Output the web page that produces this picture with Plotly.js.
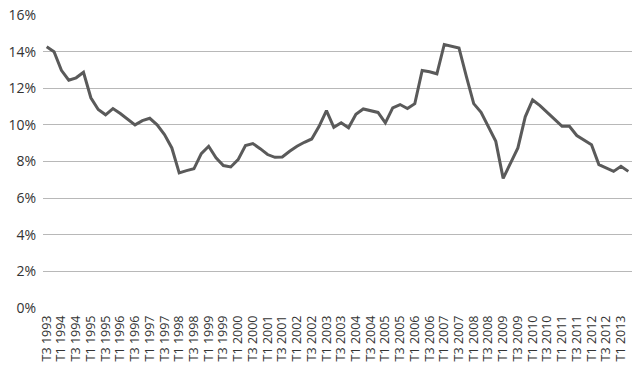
<!DOCTYPE html>
<html>
<head>
<meta charset="utf-8">
<script src="https://cdn.plot.ly/plotly-3.0.1.min.js"></script>
<style>html,body{margin:0;padding:0;background:#fff;}#chart{width:642px;height:371px;}</style>
</head>
<body>
<div id="chart"></div>
<script>
// Quarters from T3 1993 to T2 2013
const quarters = [];
(function(){
  const startYear = 1993, startQ = 3, n = 80;
  let y = startYear, q = startQ;
  for (let i = 0; i < n; i++) {
    quarters.push('T' + q + ' ' + y);
    q++; if (q > 4) { q = 1; y++; }
  }
})();

const rates = [
  14.26, 13.99, 12.98, 12.44, 12.57, 12.87, 11.48, 10.84, 10.55, 10.89,
  10.62, 10.29, 10.00, 10.23, 10.36, 10.00, 9.47, 8.74, 7.38, 7.50,
  7.60, 8.43, 8.83, 8.20, 7.78, 7.70, 8.10, 8.87, 8.98, 8.70,
  8.38, 8.23, 8.25, 8.56, 8.83, 9.05, 9.23, 9.92, 10.78, 9.87,
  10.12, 9.84, 10.58, 10.87, 10.78, 10.68, 10.11, 10.93, 11.11, 10.89,
  11.16, 12.97, 12.90, 12.79, 14.39, 14.30, 14.20, 12.65, 11.16, 10.69,
  9.92, 9.10, 7.08, 7.92, 8.74, 10.44, 11.36, 11.05, 10.70, 10.30,
  9.92, 9.92, 9.42, 9.17, 8.92, 7.83, 7.65, 7.46, 7.74, 7.46
];

const shownTicks = quarters.filter((q, i) => i % 2 === 0);
const yTicks = [0, 2, 4, 6, 8, 10, 12, 14, 16];
const yTickText = yTicks.map(v => v + '%');

Plotly.newPlot('chart', [{
  x: quarters,
  y: rates,
  type: 'scatter',
  mode: 'lines',
  line: {color: '#5a5a5a', width: 3},
  hoverinfo: 'skip'
}], {
  width: 642, height: 371,
  margin: {l: 43, r: 10, t: 15, b: 63},
  paper_bgcolor: '#fff', plot_bgcolor: '#fff',
  showlegend: false,
  font: {family: 'Open Sans, sans-serif', color: '#333', size: 12},
  xaxis: {
    type: 'category',
    range: [-0.5, 79.5],
    tickmode: 'array',
    tickvals: shownTicks,
    ticktext: shownTicks,
    tickangle: -90,
    tickfont: {size: 12.5, color: '#333'},
    ticklabelstandoff: 4,
    showgrid: false, zeroline: false, showline: false,
    ticks: '', ticklen: 0
  },
  yaxis: {
    range: [0, 16],
    tickmode: 'array',
    tickvals: yTicks,
    ticktext: yTickText,
    tickfont: {size: 14, color: '#333'},
    ticklabelstandoff: 6,
    showgrid: true, gridcolor: '#b8b8b8', gridwidth: 1,
    zeroline: false, showline: false, ticks: '', ticklen: 0
  }
}, {staticPlot: true, displayModeBar: false});
</script>
</body>
</html>
